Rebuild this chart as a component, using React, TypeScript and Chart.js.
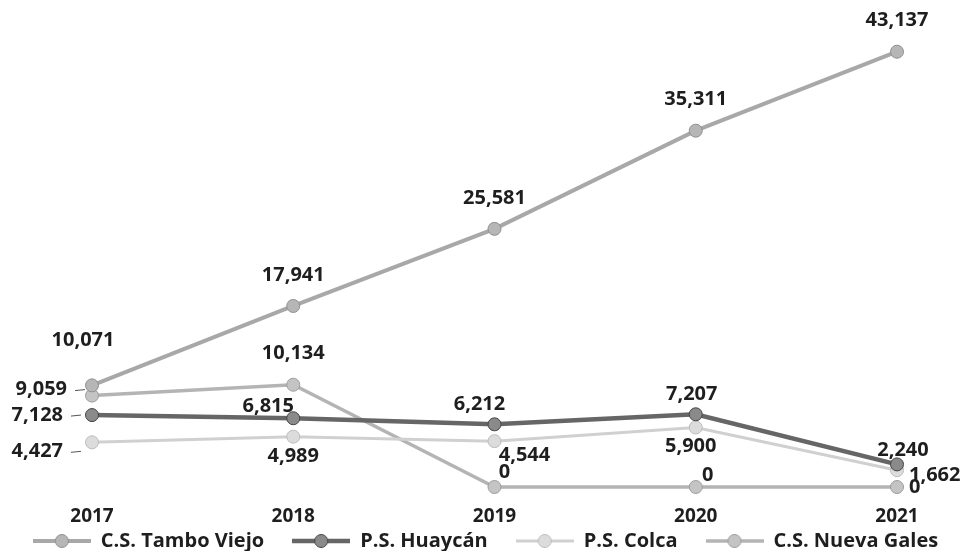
import React, { useEffect, useRef } from 'react';
import { Chart, registerables } from 'chart.js';

Chart.register(...registerables);

// ---- data ----
const years = ['2017', '2018', '2019', '2020', '2021'];
const seriesNames = ['C.S. Tambo Viejo', 'P.S. Huaycán', 'P.S. Colca', 'C.S. Nueva Gales'];
const tamboViejo = [10071, 17941, 25581, 35311, 43137];
const huaycan = [7128, 6815, 6212, 7207, 2240];
const colca = [4427, 4989, 4544, 5900, 1662];
const nuevaGales = [9059, 10134, 0, 0, 0];

// ---- styles ----
const FONT = '"Open Sans", "DejaVu Sans", sans-serif';
const TEXT = '#1e1e1e';
const STYLES = [
  { line: '#a8a8a8', fill: '#b6b6b6', edge: '#8f8f8f', width: 4 },
  { line: '#666666', fill: '#8a8a8a', edge: '#444444', width: 4.5 },
  { line: '#d0d0d0', fill: '#dcdcdc', edge: '#bcbcbc', width: 3 },
  { line: '#b4b4b4', fill: '#c4c4c4', edge: '#9c9c9c', width: 3.5 },
];
// label placement per series per point: [dx, dy, align]
const LABEL_POS: [number, number, CanvasTextAlign][][] = [
  [[-9, -45, 'center'], [0, -31, 'center'], [0, -31, 'center'], [0, -31, 'center'], [0, -31, 'center']],
  [[-29, 0, 'right'], [-25, -12, 'center'], [-15, -20, 'center'], [-4, -20, 'center'], [6, -14, 'center']],
  [[-29, 9, 'right'], [0, 20, 'center'], [30, 14, 'center'], [-5, 19, 'center'], [12, 5, 'left']],
  [[-25, -6, 'right'], [0, -31, 'center'], [10, -15, 'center'], [12, -12, 'center'], [12, 0, 'left']],
];

const fmt = new Intl.NumberFormat('en-US');

function makeIcon(st: typeof STYLES[number]) {
  const c = document.createElement('canvas');
  c.width = 58;
  c.height = 16;
  const g = c.getContext('2d')!;
  g.strokeStyle = st.line;
  g.lineWidth = st.width;
  g.beginPath();
  g.moveTo(0, 8);
  g.lineTo(58, 8);
  g.stroke();
  g.beginPath();
  g.arc(29, 8, 6.5, 0, Math.PI * 2);
  g.fillStyle = st.fill;
  g.fill();
  g.strokeStyle = st.edge;
  g.lineWidth = 1;
  g.stroke();
  return c;
}

const valueLabels = {
  id: 'valueLabels',
  afterDatasetsDraw(chart: any) {
    const ctx = chart.ctx;
    ctx.save();
    ctx.font = `700 20px ${FONT}`;
    ctx.fillStyle = TEXT;
    ctx.textBaseline = 'middle';
    chart.data.datasets.forEach((ds: any, i: number) => {
      const meta = chart.getDatasetMeta(i);
      meta.data.forEach((pt: any, j: number) => {
        const [dx, dy, align] = LABEL_POS[i][j];
        const text = fmt.format(ds.data[j]);
        const x = pt.x + dx;
        const y = pt.y + dy;
        ctx.textAlign = align;
        ctx.fillText(text, x, y);
        if (align === 'right') {
          ctx.strokeStyle = '#555';
          ctx.lineWidth = 1;
          ctx.beginPath();
          ctx.moveTo(x + 8, y + 1);
          ctx.lineTo(x + 18, y);
          ctx.stroke();
        }
      });
    });
    ctx.restore();
  },
};

// moves the legend row so it overlaps the space under the category labels, as in the source
const legendShift = {
  id: 'legendShift',
  afterLayout(chart: any) {
    const lg = chart.legend;
    if (!lg) return;
    lg.top = 503;
    lg.bottom = chart.height;
  },
};

export default function App() {
  const ref = useRef<HTMLCanvasElement>(null);

  useEffect(() => {
    const seriesData = [tamboViejo, huaycan, colca, nuevaGales];
    const icons = STYLES.map(makeIcon);
    const chart = new Chart(ref.current!, {
      type: 'line',
      data: {
        labels: years,
        datasets: seriesData.map((d, i) => ({
          label: seriesNames[i],
          data: d,
          borderColor: STYLES[i].line,
          borderWidth: STYLES[i].width,
          backgroundColor: STYLES[i].fill,
          pointBackgroundColor: STYLES[i].fill,
          pointBorderColor: STYLES[i].edge,
          pointBorderWidth: 1,
          pointRadius: 6.5,
          tension: 0,
          clip: false as any,
          yAxisID: 'y',
        })),
      },
      options: {
        responsive: false,
        animation: false,
        layout: { padding: { top: 43, bottom: 0, left: 0, right: 0 } },
        scales: {
          x: {
            type: 'category',
            offset: false,
            grid: { display: false, drawTicks: false },
            border: { display: false },
            ticks: {
              padding: 18,
              color: TEXT,
              font: { family: FONT, size: 19, weight: '700' as any },
              maxRotation: 0,
              autoSkip: false,
            },
            afterFit: (s: any) => {
              s.height = 41;
            },
          },
          y: {
            min: 0,
            max: 44000,
            display: true,
            grid: { display: false, drawTicks: false },
            border: { display: false },
            ticks: { display: false },
            afterFit: (s: any) => {
              s.width = 92;
            },
          },
          y2: {
            position: 'right',
            min: 0,
            max: 1,
            display: true,
            grid: { display: false, drawTicks: false },
            border: { display: false },
            ticks: { display: false },
            afterFit: (s: any) => {
              s.width = 74;
            },
          },
        },
        plugins: {
          tooltip: { enabled: false },
          legend: {
            position: 'bottom',
            maxHeight: 23,
            labels: {
              usePointStyle: true,
              pointStyleWidth: 58,
              padding: 28,
              color: TEXT,
              font: { family: FONT, size: 20, weight: '700' as any },
              generateLabels: (c: any) =>
                Chart.defaults.plugins.legend.labels
                  .generateLabels(c)
                  .map((l: any, i: number) => ({ ...l, pointStyle: icons[i], lineWidth: 0 })),
            },
          } as any,
        },
      },
      plugins: [valueLabels, legendShift],
    });
    return () => chart.destroy();
  }, []);

  return (
    <div style={{ position: 'fixed', left: 0, top: 0, width: 971, height: 551, background: '#fff' }}>
      <canvas ref={ref} width={971} height={551} />
    </div>
  );
}
